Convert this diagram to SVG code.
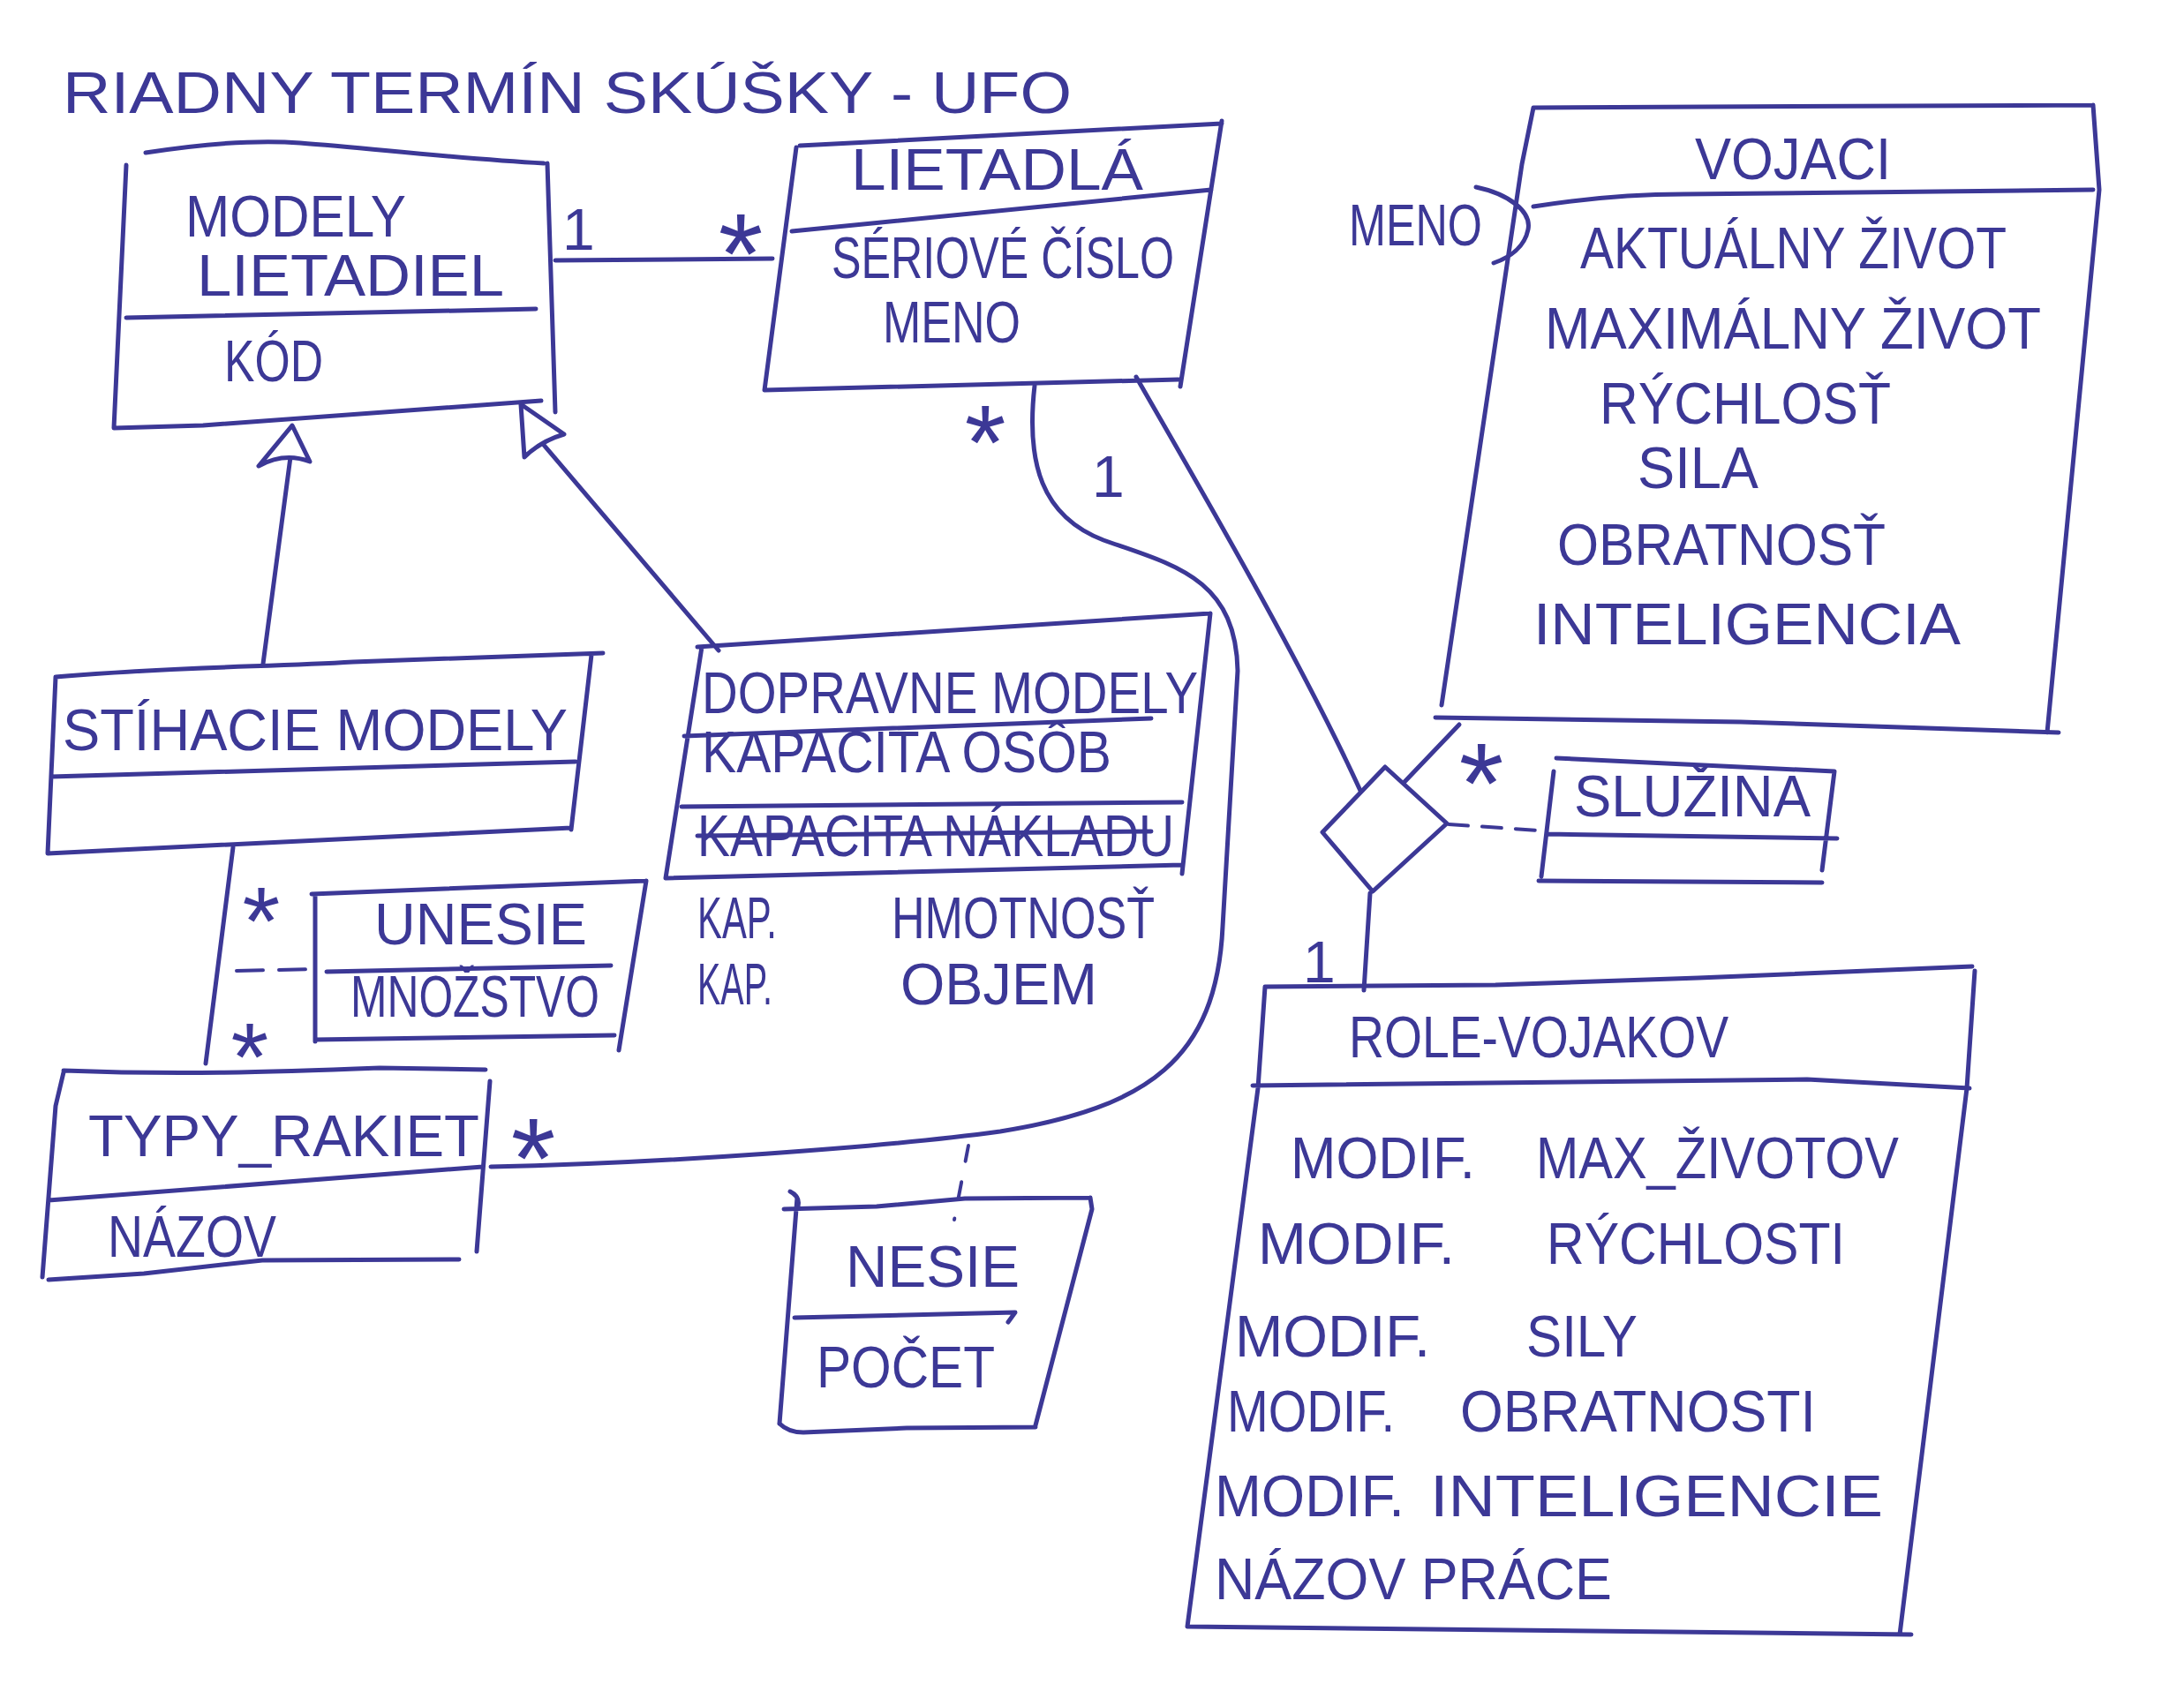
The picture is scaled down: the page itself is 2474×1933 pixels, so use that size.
<svg xmlns="http://www.w3.org/2000/svg" width="2474" height="1933" viewBox="0 0 2474 1933">
<style>
.ln{fill:none;stroke:#3c3896;stroke-width:5;stroke-linecap:round;stroke-linejoin:round}
.dsh{fill:none;stroke:#3c3896;stroke-width:4;stroke-linecap:round;stroke-dasharray:22 16}
.hd{fill:#fff;stroke:#3c3896;stroke-width:5;stroke-linejoin:round}
.t{font-family:"Liberation Sans",Arial,sans-serif;fill:#3c3896;font-size:66px}
.m{font-family:"Liberation Sans",Arial,sans-serif;fill:#3c3896;text-anchor:middle}
</style>
<rect width="2474" height="1933" fill="#fff"/>
<text class="t" x="71" y="128" font-size="80" textLength="1143" lengthAdjust="spacingAndGlyphs">RIADNY TERMÍN SKÚŠKY - UFO</text>

<g id="connectors">
  <path class="ln" d="M629,295 L875,293"/>
  <path class="ln" d="M1172,437 C1162,525 1180,585 1250,612 C1330,640 1400,655 1402,760 L1385,1050 C1378,1200 1300,1255 1133,1282 C1000,1300 750,1318 556,1322"/>
  <path class="dsh" d="M1097,1298 L1081,1382" style="stroke-dasharray:18 24"/>
  <path class="ln" d="M1287,427 C1340,520 1470,740 1542,898"/>
  <path class="ln" d="M1589,888 L1653,821"/>
  <path class="dsh" d="M1641,934 L1743,941"/>
  <path class="ln" d="M1552,1012 L1545,1122"/>
  <path class="ln" d="M298,752 L329,518"/>
  <path class="hd" d="M331,482 L293,528 Q322,512 351,523 Z"/>
  <path class="ln" d="M814,737 L615,503"/>
  <path class="hd" d="M590,458 L594,518 Q612,500 639,492 Z"/>
  <path class="ln" d="M264,960 L233,1205"/>
  <path class="dsh" d="M268,1100 L356,1098" style="stroke-dasharray:30 18"/>
  <path class="hd" d="M1569,869 L1639,933 L1555,1010 L1498,943 Z"/>
  <text class="t" x="637" y="283" font-size="74">1</text>
  <text class="m" x="839" y="333" font-size="130">*</text>
  <text class="m" x="1116" y="543" font-size="120">*</text>
  <text class="t" x="1237" y="563" font-size="115">1</text>
  <text class="m" x="1678" y="933" font-size="130">*</text>
  <text class="t" x="1476" y="1113" font-size="95">1</text>
  <text class="m" x="604" y="1358" font-size="130">*</text>
  <text class="m" x="296" y="1081" font-size="110">*</text>
  <text class="m" x="283" y="1235" font-size="110">*</text>
</g>

<g id="modely-lietadiel">
  <path class="ln" d="M165,173 C230,163 290,158 340,162 C420,168 520,180 616,185 M620,185 L629,467 M143,187 L129,485 M143,360 L607,350 M129,485 L230,482 L613,454"/>
  <text class="t" x="210" y="268" font-size="62" textLength="250" lengthAdjust="spacingAndGlyphs">MODELY</text>
  <text class="t" x="223" y="335" font-size="70" textLength="348" lengthAdjust="spacingAndGlyphs">LIETADIEL</text>
  <text class="t" x="254" y="432" font-size="66" textLength="112" lengthAdjust="spacingAndGlyphs">KÓD</text>
</g>

<g id="lietadla">
  <path class="ln" d="M906,165 L1384,140 M1384,137 L1337,438 M902,167 L866,442 M897,262 L1372,215 M866,442 L1335,430"/>
  <text class="t" x="964" y="215" font-size="62" textLength="331" lengthAdjust="spacingAndGlyphs">LIETADLÁ</text>
  <text class="t" x="942" y="315" font-size="64" textLength="388" lengthAdjust="spacingAndGlyphs">SÉRIOVÉ ČÍSLO</text>
  <text class="t" x="1000" y="388" font-size="56" textLength="156" lengthAdjust="spacingAndGlyphs">MENO</text>
</g>

<g id="vojaci">
  <path class="ln" d="M1737,122 L2371,119 M2371,119 L2378,215 L2319,830 M1737,122 L1724,186 L1633,799 M1737,234 C1800,224 1860,220 1907,220 L2371,215 M1626,813 L1972,818 L2332,830"/>
  <text class="t" x="1920" y="203" font-size="57" textLength="222" lengthAdjust="spacingAndGlyphs">VOJACI</text>
  <text class="t" x="1790" y="304" font-size="62" textLength="483" lengthAdjust="spacingAndGlyphs">AKTUÁLNY ŽIVOT</text>
  <text class="t" x="1750" y="395" font-size="66" textLength="562" lengthAdjust="spacingAndGlyphs">MAXIMÁLNY ŽIVOT</text>
  <text class="t" x="1812" y="480" font-size="66" textLength="330" lengthAdjust="spacingAndGlyphs">RÝCHLOSŤ</text>
  <text class="t" x="1855" y="553" font-size="66" textLength="137" lengthAdjust="spacingAndGlyphs">SILA</text>
  <text class="t" x="1764" y="640" font-size="66" textLength="372" lengthAdjust="spacingAndGlyphs">OBRATNOSŤ</text>
  <text class="t" x="1737" y="730" font-size="62" textLength="484" lengthAdjust="spacingAndGlyphs">INTELIGENCIA</text>
  <path class="ln" d="M1672,212 C1710,220 1735,240 1731,260 C1727,280 1710,292 1692,298"/>
  <text class="t" x="1528" y="278" font-size="62" textLength="151" lengthAdjust="spacingAndGlyphs">MENO</text>
</g>

<g id="stihacie-modely">
  <path class="ln" d="M63,767 C200,755 300,756 400,750 L683,740 M670,742 L647,940 M63,767 L54,967 M58,880 L652,863 M54,967 L647,938"/>
  <text class="t" x="71" y="850" font-size="80" textLength="572" lengthAdjust="spacingAndGlyphs">STÍHACIE MODELY</text>
</g>

<g id="dopravne-modely">
  <path class="ln" d="M790,733 L1371,695 M1371,695 L1339,990 M795,733 L754,995 M775,834 L1304,814 M772,914 L1339,909 M754,995 L1339,980 M790,947 L1304,942"/>
  <text class="t" x="795" y="808" font-size="80" textLength="562" lengthAdjust="spacingAndGlyphs">DOPRAVNE MODELY</text>
  <text class="t" x="795" y="875" font-size="60" textLength="464" lengthAdjust="spacingAndGlyphs">KAPACITA OSÔB</text>
  <text class="t" x="790" y="970" font-size="62" textLength="540" lengthAdjust="spacingAndGlyphs">KAPACITA NÁKLADU</text>
  <text class="t" font-size="62"><tspan x="790" y="1063" textLength="90" lengthAdjust="spacingAndGlyphs">KAP.</tspan><tspan x="1010" y="1063" textLength="298" lengthAdjust="spacingAndGlyphs">HMOTNOSŤ</tspan></text>
  <text class="t" font-size="62"><tspan x="790" y="1138" textLength="85" lengthAdjust="spacingAndGlyphs">KAP.</tspan><tspan x="1020" y="1138" textLength="223" lengthAdjust="spacingAndGlyphs">OBJEM</tspan></text>
</g>

<g id="unesie">
  <path class="ln" d="M353,1013 L732,998 M732,998 L701,1190 M357,1013 L357,1180 M370,1101 L692,1094 M357,1178 L696,1173"/>
  <text class="t" x="424" y="1070" font-size="66" textLength="241" lengthAdjust="spacingAndGlyphs">UNESIE</text>
  <text class="t" x="397" y="1152" font-size="50" textLength="282" lengthAdjust="spacingAndGlyphs">MNOŽSTVO</text>
</g>

<g id="typy-rakiet">
  <path class="ln" d="M72,1213 C200,1218 300,1215 430,1210 L550,1212 M72,1215 L63,1253 L48,1447 M555,1225 L540,1418 M55,1360 L547,1322 M55,1450 L163,1443 L297,1428 L520,1427"/>
  <text class="t" x="100" y="1310" font-size="76" textLength="443" lengthAdjust="spacingAndGlyphs">TYPY_RAKIET</text>
  <text class="t" x="122" y="1424" font-size="62" textLength="191" lengthAdjust="spacingAndGlyphs">NÁZOV</text>
</g>

<g id="nesie">
  <path class="ln" d="M888,1370 L993,1367 L1093,1358 L1235,1357 M895,1350 C905,1355 906,1362 903,1370 M903,1357 L883,1613 M1235,1357 L1237,1370 L1173,1615 M883,1613 C890,1620 900,1623 910,1623 L1027,1618 L1173,1617 M900,1493 L1150,1487 L1142,1498"/>
  <text class="t" x="958" y="1458" font-size="74" textLength="197" lengthAdjust="spacingAndGlyphs">NESIE</text>
  <text class="t" x="925" y="1572" font-size="68" textLength="202" lengthAdjust="spacingAndGlyphs">POČET</text>
</g>

<g id="sluzina">
  <path class="ln" d="M1763,859 L2078,874 M1760,874 L1746,993 M2078,874 L2064,986 M1753,945 L2081,950 M1743,998 L2064,1000"/>
  <text class="t" x="1783" y="925" font-size="60" textLength="268" lengthAdjust="spacingAndGlyphs">SLUŽINA</text>
</g>

<g id="role-vojakov">
  <path class="ln" d="M1433,1118 L1694,1116 L1924,1108 L2234,1095 M2237,1100 L2228,1233 L2152,1852 M1433,1118 L1425,1233 L1345,1843 M1419,1230 L2047,1223 L2231,1233 M1345,1843 L2165,1852"/>
  <text class="t" x="1528" y="1198" font-size="70" textLength="430" lengthAdjust="spacingAndGlyphs">ROLE-VOJAKOV</text>
  <text class="t" font-size="68"><tspan x="1462" y="1335" textLength="209" lengthAdjust="spacingAndGlyphs">MODIF.</tspan><tspan x="1740" y="1335" textLength="411" lengthAdjust="spacingAndGlyphs">MAX_ŽIVOTOV</tspan></text>
  <text class="t" font-size="68"><tspan x="1425" y="1432" textLength="223" lengthAdjust="spacingAndGlyphs">MODIF.</tspan><tspan x="1752" y="1432" textLength="338" lengthAdjust="spacingAndGlyphs">RÝCHLOSTI</tspan></text>
  <text class="t" font-size="68"><tspan x="1399" y="1537" textLength="221" lengthAdjust="spacingAndGlyphs">MODIF.</tspan><tspan x="1729" y="1537" textLength="126" lengthAdjust="spacingAndGlyphs">SILY</tspan></text>
  <text class="t" font-size="68"><tspan x="1390" y="1622" textLength="190" lengthAdjust="spacingAndGlyphs">MODIF.</tspan><tspan x="1654" y="1622" textLength="403" lengthAdjust="spacingAndGlyphs">OBRATNOSTI</tspan></text>
  <text class="t" font-size="68"><tspan x="1376" y="1718" textLength="215" lengthAdjust="spacingAndGlyphs">MODIF.</tspan><tspan x="1620" y="1718" textLength="513" lengthAdjust="spacingAndGlyphs">INTELIGENCIE</tspan></text>
  <text class="t" font-size="68" x="1376" y="1812" textLength="450" lengthAdjust="spacingAndGlyphs">NÁZOV PRÁCE</text>
</g>
</svg>
